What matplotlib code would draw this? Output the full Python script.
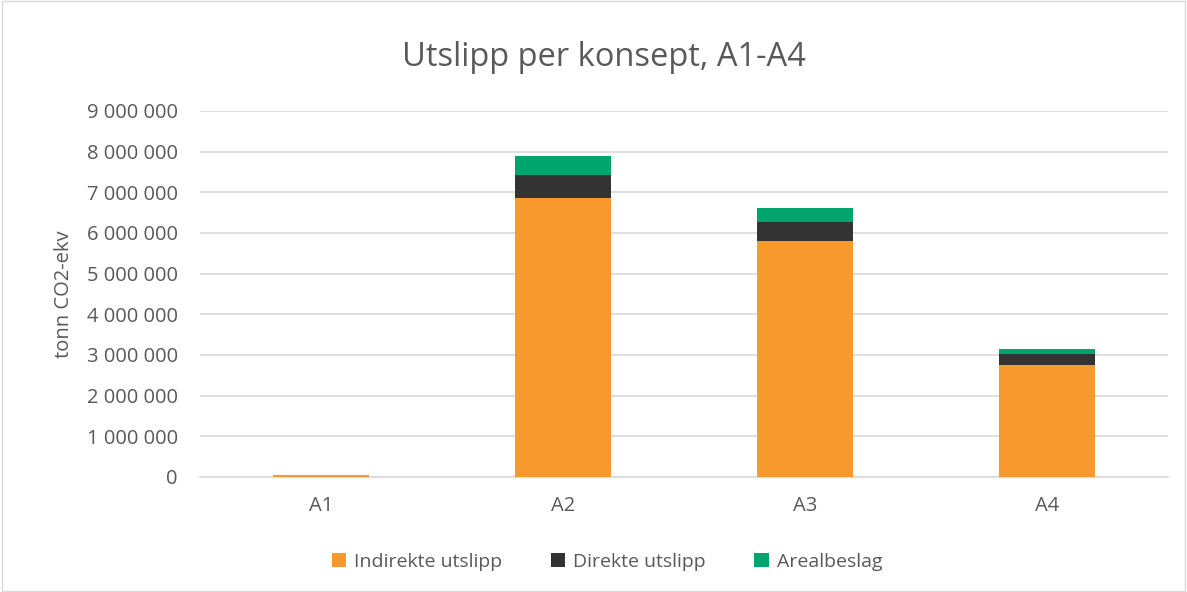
import matplotlib.pyplot as plt
from matplotlib.ticker import FuncFormatter

# data (tonn CO2-ekv)
konsept = ["A1", "A2", "A3", "A4"]
indirekte = [50000, 6860000, 5800000, 2750000]
direkte = [5000, 570000, 480000, 270000]
arealbeslag = [3000, 460000, 330000, 130000]

c_ind = "#F7992D"
c_dir = "#333333"
c_are = "#00A56E"
txt = "#595959"

plt.rcParams["font.family"] = ["Open Sans", "DejaVu Sans"]

fig = plt.figure(figsize=(11.87, 5.92), dpi=100)
ax = fig.add_axes([200 / 1187, 1 - 477 / 592, 968 / 1187, 366 / 592])

x = range(len(konsept))
w = 0.4
bottom2 = [a + b for a, b in zip(indirekte, direkte)]
ax.bar(x, indirekte, w, color=c_ind, label="Indirekte utslipp", zorder=3)
ax.bar(x, direkte, w, bottom=indirekte, color=c_dir, label="Direkte utslipp", zorder=3)
ax.bar(x, arealbeslag, w, bottom=bottom2, color=c_are, label="Arealbeslag", zorder=3)

ax.set_xlim(-0.5, len(konsept) - 0.5)
ax.set_ylim(0, 9000000)
ax.set_yticks(range(0, 9000001, 1000000))
ax.yaxis.set_major_formatter(FuncFormatter(lambda v, p: f"{int(v):,}".replace(",", " ")))
ax.set_xticks(list(x))
ax.set_xticklabels(konsept)
ax.grid(axis="y", color="#D9D9D9", linewidth=1.2, zorder=0)
for s in ["top", "right", "left"]:
    ax.spines[s].set_visible(False)
ax.spines["bottom"].set_color("#D9D9D9")
ax.spines["bottom"].set_linewidth(1.2)
ax.tick_params(axis="both", length=0, labelsize=14.5, colors=txt)
ax.tick_params(axis="y", pad=16)
ax.tick_params(axis="x", pad=14)
ax.set_ylabel("tonn CO2-ekv", fontsize=14.5, color=txt, labelpad=9)

fig.text(604 / 1187, 1 - 57 / 592, "Utslipp per konsept, A1-A4", ha="center", va="center",
         fontsize=23.5, color=txt)

fig.legend(loc="center", bbox_to_anchor=(607 / 1187, 1 - 562 / 592), ncol=3, frameon=False,
           fontsize=14, labelcolor=txt, handlelength=0.75, handleheight=0.75,
           handletextpad=0.4, columnspacing=2.5)

fig.patches.append(plt.Rectangle((0.002, 0.002), 0.996, 0.996, transform=fig.transFigure,
                                 fill=False, edgecolor="#D9D9D9", linewidth=1))

fig.savefig("out.png", dpi=100)
